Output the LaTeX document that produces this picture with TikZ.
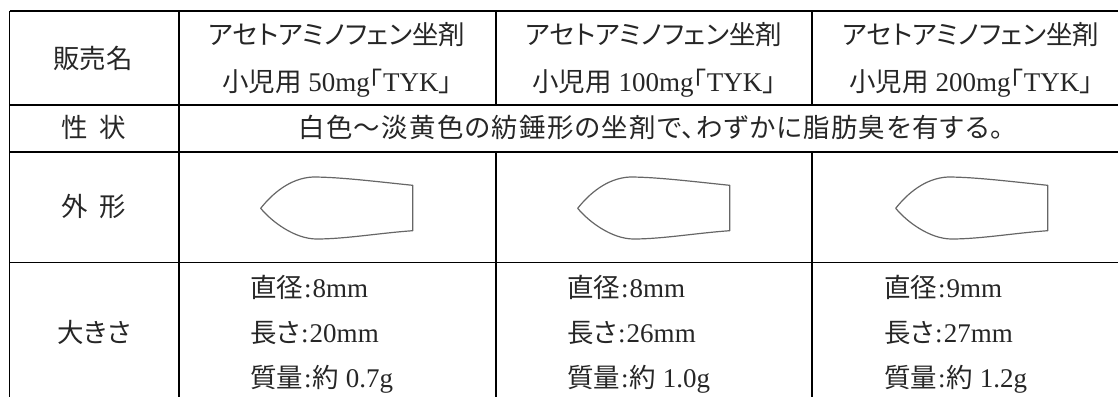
\documentclass[tikz,border=0pt]{standalone}
\usepackage{fontspec}
\setmainfont{Liberation Serif}
\newfontfamily\cjk{Noto Sans CJK JP}[Scale=0.98,RawFeature={+palt}]
\newfontfamily\cjkwide{Noto Sans CJK JP}[Scale=0.98,RawFeature={+palt},LetterSpace=4.8]
\newcommand{\J}[1]{{\cjk #1}}
\newcommand{\C}{\hspace{1pt}:\hspace{1pt}}
\newcommand{\boat}[1]{%
  \draw[outline,shift={(#1,0)}] (260.7,208.3)
    .. controls (272,194) and (290,178) .. (313,177)
    .. controls (340,177) and (380,182) .. (412.7,185.3)
    -- (412.7,230.7)
    .. controls (380,233) and (345,239) .. (316.7,239)
    .. controls (295,239) and (272,222) .. (260.7,208.3) -- cycle;}
\tikzset{
  rule/.style={line width=1.7pt,black},
  txt/.style={inner sep=0pt,anchor=base,font=\fontsize{27pt}{32pt}\selectfont,text=black!85},
  ltxt/.style={txt,anchor=base west},
  outline/.style={line width=1.2pt,draw=black!60,line join=round}
}
\begin{document}
\begin{tikzpicture}[x=1pt,y=-1pt]
\useasboundingbox (0,0) rectangle (1118,397);
% table rules
\draw[rule] (9.5,11) -- (1118,11);
\draw[rule] (9.5,105) -- (1118,105);
\draw[rule] (9.5,152) -- (1118,152);
\draw[rule] (9.5,262.5) -- (1118,262.5);
\draw[rule] (9.5,11) -- (9.5,397);
\draw[rule] (179,11) -- (179,397);
\draw[rule] (496,11) -- (496,105);
\draw[rule] (496,152) -- (496,397);
\draw[rule] (812,11) -- (812,105);
\draw[rule] (812,152) -- (812,397);
% first column
\node[txt] (hanbai) at (93,68) {\J{販売名}};
\node[txt] (seijo) at (94,137) {\J{性\hspace{0.45em}状}};
\node[txt] (gaikei) at (94,216) {\J{外\hspace{0.45em}形}};
\node[txt] (ookisa) at (94,342) {\J{大きさ}};
% brand names
\node[txt] (a1) at (337,44) {\J{アセトアミノフェン坐剤}};
\node[txt] (b1) at (337,91) {\J{小児用} 50mg\J{｢}TYK\J{｣}};
\node[txt] (a2) at (654,44) {\J{アセトアミノフェン坐剤}};
\node[txt] (b2) at (654,91) {\J{小児用} 100mg\J{｢}TYK\J{｣}};
\node[txt] (a3) at (971,44) {\J{アセトアミノフェン坐剤}};
\node[txt] (b3) at (971,91) {\J{小児用} 200mg\J{｢}TYK\J{｣}};
% description
\node[txt] (desc) at (651,137) {{\cjkwide 白色〜淡黄色の紡錘形の坐剤で、わずかに脂肪臭を有する。}};
% outlines
\boat{0}
\boat{317}
\boat{635}
% sizes
\node[ltxt] (d1) at (250,297) {\J{直径}\C 8mm};
\node[ltxt] (l1) at (250,342) {\J{長さ}\C 20mm};
\node[ltxt] (m1) at (250,387) {\J{質量}\C\J{約} 0.7g};
\node[ltxt] (d2) at (567,297) {\J{直径}\C 8mm};
\node[ltxt] (l2) at (567,342) {\J{長さ}\C 26mm};
\node[ltxt] (m2) at (567,387) {\J{質量}\C\J{約} 1.0g};
\node[ltxt] (d3) at (884,297) {\J{直径}\C 9mm};
\node[ltxt] (l3) at (884,342) {\J{長さ}\C 27mm};
\node[ltxt] (m3) at (884,387) {\J{質量}\C\J{約} 1.2g};
\end{tikzpicture}
\end{document}
